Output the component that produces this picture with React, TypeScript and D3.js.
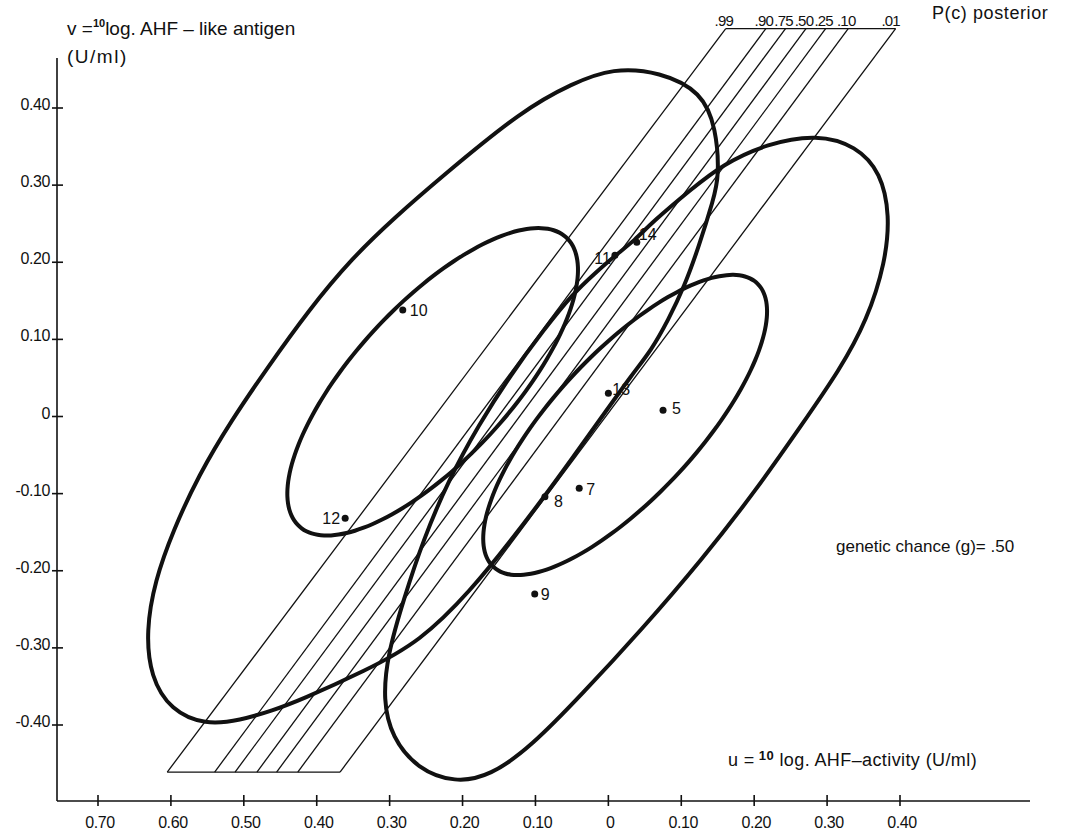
import React from 'react'
import * as d3 from 'd3'

const W = 1067
const H = 832

// axis ticks (u and v in 10log U/ml)
const xTicks = [-0.7, -0.6, -0.5, -0.4, -0.3, -0.2, -0.1, 0, 0.1, 0.2, 0.3, 0.4]
const yTicks = [0.4, 0.3, 0.2, 0.1, 0, -0.1, -0.2, -0.3, -0.4]

// the cases plotted
const caseIds = ['10', '12', '13', '5', '7', '8', '9', '11', '14']
const caseU = [-0.282, -0.361, 0.0, 0.075, -0.04, -0.087, -0.101, 0.009, 0.039]
const caseV = [0.138, -0.132, 0.03, 0.008, -0.093, -0.104, -0.23, 0.209, 0.226]

// where each case number sits next to its dot (px)
const caseLabelPlace: Record<string, [number, number, string]> = {
  '10': [7, 6, 'start'],
  '12': [-5, 6, 'end'],
  '13': [4, 2, 'start'],
  '5': [9, 4, 'start'],
  '7': [7, 7, 'start'],
  '8': [9, 10, 'start'],
  '9': [6, 6, 'start'],
  '11': [-4, 9, 'end'],
  '14': [2, -2, 'start'],
}

// outer contours as (u, v) points going round
const outerLeft: [number, number][] = [
  [0.006, 0.452], [0.071, 0.447], [0.128, 0.421], [0.148, 0.374], [0.152, 0.311],
  [0.144, 0.281], [0.124, 0.22], [0.104, 0.168], [0.082, 0.125], [0.059, 0.086],
  [0.032, 0.054], [-0.01, -0.002], [-0.051, -0.056], [-0.088, -0.104], [-0.133, -0.16],
  [-0.188, -0.225], [-0.258, -0.292], [-0.334, -0.33], [-0.423, -0.368], [-0.46, -0.381],
  [-0.505, -0.394], [-0.553, -0.4], [-0.6, -0.381], [-0.628, -0.338], [-0.634, -0.278],
  [-0.622, -0.213], [-0.597, -0.148], [-0.562, -0.076], [-0.517, -0.005], [-0.47, 0.06],
  [-0.411, 0.138], [-0.352, 0.205], [-0.293, 0.258], [-0.231, 0.309], [-0.117, 0.398],
  [-0.049, 0.432],
]
const outerRight: [number, number][] = [
  [0.286, 0.366], [0.34, 0.351], [0.374, 0.316], [0.386, 0.261], [0.38, 0.2],
  [0.355, 0.125], [0.317, 0.06], [0.265, -0.011], [0.203, -0.095], [0.128, -0.186],
  [0.045, -0.277], [-0.037, -0.361], [-0.106, -0.428], [-0.162, -0.466], [-0.21, -0.475],
  [-0.262, -0.457], [-0.297, -0.416], [-0.309, -0.368], [-0.303, -0.309], [-0.281, -0.238],
  [-0.254, -0.16], [-0.219, -0.082], [-0.178, -0.011], [-0.134, 0.054], [-0.089, 0.112],
  [-0.048, 0.16], [-0.018, 0.186], [0.007, 0.207], [0.037, 0.229], [0.059, 0.251],
  [0.114, 0.295], [0.157, 0.327], [0.218, 0.354],
]

// inner contours: ellipses given by centre, semi axes, tilt (deg, data space)
const innerNames = ['leftInner', 'rightInner']
const innerU = [-0.241, 0.023]
const innerV = [0.045, -0.011]
const innerA = [0.262, 0.258]
const innerB = [0.104, 0.096]
const innerTilt = [45, 45]

// posterior P(c) lines
const pLabels = ['.99', '.90', '.75', '.50', '.25', '.10', '.01']
const pTopU = [0.161, 0.216, 0.243, 0.271, 0.298, 0.329, 0.394]
const pBottomU = [-0.605, -0.54, -0.512, -0.482, -0.455, -0.426, -0.368]
const bandTopV = 0.503
const bandBottomV = -0.461

const font = '"Liberation Sans", Arial, sans-serif'

function ellipsePoints(cu: number, cv: number, a: number, b: number, deg: number): [number, number][] {
  const th = (deg * Math.PI) / 180
  return d3.range(0, 360, 4).map((t) => {
    const r = (t * Math.PI) / 180
    return [
      cu + a * Math.cos(th) * Math.cos(r) - b * Math.sin(th) * Math.sin(r),
      cv + a * Math.sin(th) * Math.cos(r) + b * Math.cos(th) * Math.sin(r),
    ] as [number, number]
  })
}

function fmtX(t: number) {
  const a = Math.abs(t)
  return a < 1e-9 ? '0' : a.toFixed(2)
}
function fmtY(t: number) {
  if (Math.abs(t) < 1e-9) return '0'
  return (t < 0 ? '-' : '') + Math.abs(t).toFixed(2)
}

export default function App() {
  const x = d3.scaleLinear().domain([-0.7, 0.4]).range([98, 900])
  const y = d3.scaleLinear().domain([-0.4, 0.4]).range([725, 108])

  const axisLeft = 57
  const axisBottom = 801

  // hand-read outlines get a smoothing spline, the ellipses go straight through
  const smooth = d3
    .line<[number, number]>()
    .x((d) => x(d[0]))
    .y((d) => y(d[1]))
    .curve(d3.curveBasisClosed)
  const exact = d3
    .line<[number, number]>()
    .x((d) => x(d[0]))
    .y((d) => y(d[1]))
    .curve(d3.curveCardinalClosed)

  const ink = '#111'

  const paths = [
    smooth(outerLeft),
    smooth(outerRight),
    ...innerNames.map((_, i) => exact(ellipsePoints(innerU[i], innerV[i], innerA[i], innerB[i], innerTilt[i]))),
  ]

  return (
    <svg width={W} height={H} style={{ position: 'absolute', left: 0, top: 0, background: 'white' }} fontFamily={font}>
      <rect width={W} height={H} fill="white" />

      {/* posterior band */}
      <g stroke={ink} strokeWidth={1.3} fill="none">
        {pLabels.map((p, i) => (
          <line key={p} x1={x(pBottomU[i])} y1={y(bandBottomV)} x2={x(pTopU[i])} y2={y(bandTopV)} />
        ))}
        <line x1={x(pTopU[0])} y1={y(bandTopV)} x2={x(pTopU[pTopU.length - 1])} y2={y(bandTopV)} />
        <line x1={x(pBottomU[0])} y1={y(bandBottomV)} x2={x(pBottomU[pBottomU.length - 1])} y2={y(bandBottomV)} />
      </g>
      <g fontSize={15} fill={ink} textAnchor="middle" letterSpacing={-0.8}>
        {pLabels.map((p, i) => (
          <text key={p} x={x(pTopU[i]) + (i === pLabels.length - 1 ? -5 : -2)} y={y(bandTopV) - 3}>
            {p}
          </text>
        ))}
      </g>
      <text x={932} y={19} fontSize={18} letterSpacing={0.6} fill={ink}>
        P(c) posterior
      </text>

      {/* contours */}
      <g stroke={ink} strokeWidth={4} fill="none" strokeLinejoin="round">
        {paths.map((d, i) => (
          <path key={i} d={d || ''} />
        ))}
      </g>

      {/* cases */}
      <g fill={ink} fontSize={16}>
        {caseIds.map((id, i) => {
          const [dx, dy, anchor] = caseLabelPlace[id]
          return (
            <g key={id}>
              <circle cx={x(caseU[i])} cy={y(caseV[i])} r={3.5} />
              <text x={x(caseU[i]) + dx} y={y(caseV[i]) + dy} textAnchor={anchor as any}>
                {id}
              </text>
            </g>
          )
        })}
      </g>

      {/* axes */}
      <g stroke={ink} strokeWidth={1.6} fill="none">
        <line x1={axisLeft} y1={58} x2={axisLeft} y2={axisBottom} />
        <line x1={axisLeft} y1={axisBottom} x2={1030} y2={axisBottom} />
        {yTicks.map((t) => (
          <line key={'yt' + t} x1={axisLeft - 5} y1={y(t)} x2={axisLeft + 6} y2={y(t)} />
        ))}
        {xTicks.map((t) => (
          <line key={'xt' + t} x1={x(t)} y1={axisBottom - 6} x2={x(t)} y2={axisBottom + 5} />
        ))}
      </g>
      <g fontSize={16} fill={ink} textAnchor="end" letterSpacing={-0.4}>
        {yTicks.map((t) => (
          <text key={'yl' + t} x={axisLeft - 7} y={y(t) + 2}>
            {fmtY(t)}
          </text>
        ))}
      </g>
      <g fontSize={16} fill={ink} textAnchor="middle" letterSpacing={-0.4}>
        {xTicks.map((t) => (
          <text key={'xl' + t} x={x(t) + 2} y={828}>
            {fmtX(t)}
          </text>
        ))}
      </g>

      {/* axis titles */}
      <text x={67} y={35} fontSize={19} fill={ink}>
        v =
        <tspan fontSize={11} fontWeight="bold" dy={-8}>
          10
        </tspan>
        <tspan dy={8}>log. AHF – like  antigen</tspan>
      </text>
      <text x={67} y={63} fontSize={19} letterSpacing={1.5} fill={ink}>
        (U/ml)
      </text>
      <text x={728} y={766} fontSize={18} letterSpacing={0.4} fill={ink}>
        u =
        <tspan fontSize={13} fontWeight="bold" dy={-6}>
          {' '}10
        </tspan>
        <tspan dy={6}> log. AHF–activity (U/ml)</tspan>
      </text>

      <text x={836} y={552} fontSize={17} fill={ink}>
        genetic chance (g)= .50
      </text>
    </svg>
  )
}
